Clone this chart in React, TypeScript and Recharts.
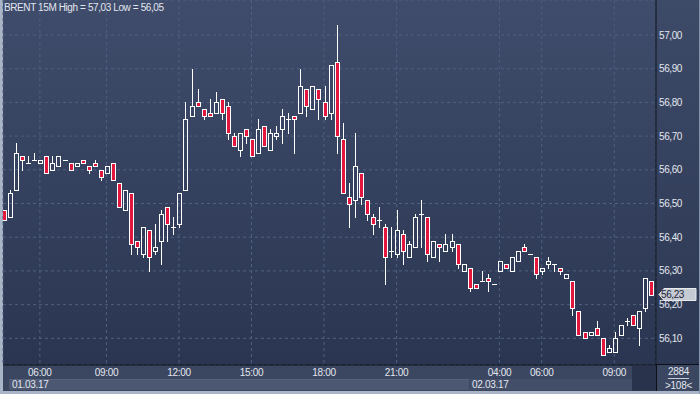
import React from "react";
import { ComposedChart, Bar, XAxis, YAxis, CartesianGrid, ReferenceLine } from "recharts";

// BRENT 15M, 108 bars (index 0..107)
const opens = [
  56.48, 56.46, 56.54, 56.64, 56.62, 56.63, 56.62, 56.64, 56.60, 56.61,
  56.63, 56.62, 56.61, 56.63, 56.61, 56.62, 56.60, 56.59, 56.62, 56.56,
  56.48, 56.53, 56.39, 56.35, 56.42, 56.36, 56.39, 56.49, 56.43, 56.44,
  56.54, 56.76, 56.80, 56.78, 56.77, 56.77, 56.81, 56.79, 56.70, 56.66,
  56.72, 56.69, 56.65, 56.73, 56.66, 56.70, 56.72, 56.75, 56.76, 56.77,
  56.84, 56.78, 56.84, 56.80, 56.77, 56.92, 56.69, 56.52, 56.51, 56.59,
  56.51, 56.46, 56.45, 56.43, 56.36, 56.35, 56.41, 56.34, 56.37, 56.47,
  56.46, 56.34, 56.38, 56.36, 56.37, 56.38, 56.30, 56.31, 56.26, 56.27,
  56.28, 56.26, 56.30, 56.32, 56.30, 56.33, 56.37, 56.35, 56.34, 56.30,
  56.32, 56.32, 56.31, 56.28, 56.27, 56.18, 56.12, 56.11, 56.13, 56.10,
  56.06, 56.06, 56.11, 56.15, 56.17, 56.13, 56.19, 56.27,
];
const highs = [
  56.48, 56.54, 56.68, 56.64, 56.64, 56.65, 56.63, 56.64, 56.64, 56.64,
  56.63, 56.62, 56.62, 56.63, 56.61, 56.63, 56.60, 56.61, 56.62, 56.56,
  56.54, 56.53, 56.39, 56.43, 56.42, 56.44, 56.48, 56.49, 56.46, 56.53,
  56.80, 56.90, 56.84, 56.78, 56.81, 56.83, 56.81, 56.80, 56.71, 56.71,
  56.72, 56.69, 56.75, 56.73, 56.72, 56.73, 56.78, 56.77, 56.76, 56.90,
  56.84, 56.85, 56.84, 56.85, 56.91, 57.03, 56.74, 56.56, 56.71, 56.59,
  56.51, 56.47, 56.49, 56.44, 56.43, 56.48, 56.42, 56.39, 56.47, 56.51,
  56.46, 56.39, 56.38, 56.41, 56.41, 56.38, 56.32, 56.31, 56.26, 56.30,
  56.29, 56.26, 56.33, 56.32, 56.34, 56.36, 56.38, 56.35, 56.34, 56.31,
  56.34, 56.32, 56.31, 56.29, 56.27, 56.18, 56.12, 56.12, 56.15, 56.10,
  56.08, 56.12, 56.14, 56.16, 56.17, 56.18, 56.28, 56.27,
];
const lows = [
  56.45, 56.46, 56.54, 56.60, 56.62, 56.63, 56.62, 56.59, 56.60, 56.61,
  56.63, 56.60, 56.61, 56.62, 56.59, 56.61, 56.57, 56.59, 56.57, 56.49,
  56.48, 56.35, 56.35, 56.34, 56.30, 56.35, 56.32, 56.39, 56.41, 56.43,
  56.54, 56.76, 56.79, 56.75, 56.76, 56.77, 56.75, 56.69, 56.67, 56.64,
  56.68, 56.64, 56.65, 56.67, 56.66, 56.69, 56.68, 56.71, 56.65, 56.77,
  56.76, 56.78, 56.75, 56.75, 56.75, 56.65, 56.53, 56.43, 56.46, 56.50,
  56.45, 56.41, 56.43, 56.26, 56.34, 56.34, 56.32, 56.34, 56.37, 56.37,
  56.33, 56.34, 56.33, 56.36, 56.36, 56.31, 56.30, 56.24, 56.25, 56.27,
  56.24, 56.26, 56.30, 56.31, 56.30, 56.33, 56.36, 56.35, 56.28, 56.29,
  56.31, 56.30, 56.29, 56.28, 56.17, 56.11, 56.10, 56.11, 56.11, 56.05,
  56.06, 56.06, 56.11, 56.14, 56.14, 56.08, 56.18, 56.23,
];
const closes = [
  56.45, 56.53, 56.65, 56.63, 56.62, 56.63, 56.63, 56.59, 56.62, 56.64,
  56.63, 56.60, 56.62, 56.62, 56.60, 56.61, 56.58, 56.61, 56.57, 56.49,
  56.54, 56.38, 56.37, 56.43, 56.34, 56.37, 56.47, 56.44, 56.43, 56.53,
  56.75, 56.79, 56.79, 56.76, 56.76, 56.80, 56.77, 56.71, 56.67, 56.71,
  56.70, 56.64, 56.72, 56.67, 56.71, 56.71, 56.76, 56.75, 56.75, 56.85,
  56.79, 56.85, 56.81, 56.76, 56.91, 56.70, 56.53, 56.50, 56.61, 56.52,
  56.47, 56.44, 56.45, 56.34, 56.36, 56.42, 56.36, 56.38, 56.46, 56.47,
  56.35, 56.39, 56.37, 56.38, 56.39, 56.32, 56.32, 56.25, 56.25, 56.27,
  56.27, 56.26, 56.33, 56.31, 56.34, 56.36, 56.36, 56.35, 56.29, 56.31,
  56.33, 56.32, 56.30, 56.29, 56.19, 56.11, 56.10, 56.12, 56.11, 56.05,
  56.07, 56.10, 56.14, 56.15, 56.14, 56.18, 56.28, 56.23,
];

const tickIdx = [6, 17, 29, 41, 53, 65, 82, 89, 101];
const tickLabels = ["06:00", "09:00", "12:00", "15:00", "18:00", "21:00", "04:00", "06:00", "09:00"];
const priceTicks = [56.1, 56.2, 56.3, 56.4, 56.5, 56.6, 56.7, 56.8, 56.9, 57.0];
const lastPrice = 56.23;
const title = "BRENT 15M High = 57,03 Low = 56,05";

const rows = opens.map((o, i) => ({
  i,
  range: [lows[i], highs[i]],
  o,
  h: highs[i],
  l: lows[i],
  c: closes[i],
}));

const RED = "#e3173e";
const TXT = "#e2e6ee";
const FONT = '"Liberation Sans", Arial, sans-serif';

function Candle(props: any) {
  const { x, y, width, height, payload } = props;
  if (x == null || y == null) return null;
  const { o, h, l, c } = payload;
  const y0 = Math.min(y, y + height);
  const hh = Math.abs(height);
  const span = h - l;
  const py = (p: number) => (span > 0 ? y0 + ((h - p) / span) * hh : y0);
  const cx = Math.round(x + width / 2);
  const wx = cx + 0.5;
  const top = Math.round(Math.min(py(o), py(c))) + 0.5;
  const bot = Math.round(Math.max(py(o), py(c))) + 0.5;
  const yh = Math.round(y0);
  const yl = Math.round(y0 + hh) + 1;
  const down = c < o;
  return (
    <g>
      {yh < top && <line x1={wx} x2={wx} y1={yh} y2={top} stroke="#fff" strokeWidth={1} />}
      {yl > bot && <line x1={wx} x2={wx} y1={bot} y2={yl} stroke="#fff" strokeWidth={1} />}
      {bot - top < 1 ? (
        <line x1={cx - 2} x2={cx + 3} y1={top} y2={top} stroke="#fff" strokeWidth={1} />
      ) : (
        <rect x={cx - 1.5} y={top} width={4} height={bot - top} fill={down ? RED : "none"} stroke="#fff" strokeWidth={1} />
      )}
    </g>
  );
}

function PriceTag(props: any) {
  const vb = props.viewBox || {};
  const ax = vb.x + vb.width;
  const y = vb.y;
  const pts = `${ax + 3},${y} ${ax + 8},${y - 6} ${ax + 40},${y - 6} ${ax + 40},${y + 6} ${ax + 8},${y + 6}`;
  return (
    <g>
      <polygon points={pts} fill="#c6cad2" stroke="#e8eaee" strokeWidth={1} />
      <text x={ax + 5} y={y} dy="0.36em" fontSize={10} letterSpacing={-0.4} fill="#1c2438" fontFamily={FONT}>
        {lastPrice.toFixed(2).replace(".", ",")}
      </text>
    </g>
  );
}

const fmtPrice = (v: number) => v.toFixed(2).replace(".", ",");
const fmtTime = (v: number) => tickLabels[tickIdx.indexOf(v)] ?? "";

export default function App() {
  return (
    <div style={{ position: "absolute", left: 0, top: 0, width: 700, height: 394, background: "#3b4661", overflow: "hidden", fontFamily: FONT }}>
      {/* plot + price panel backgrounds */}
      <div style={{ position: "absolute", left: 3, top: 0, width: 653, height: 365, background: "linear-gradient(#3f4c6b, #2a3651)" }} />
      <div style={{ position: "absolute", left: 657, top: 0, width: 43, height: 364, background: "linear-gradient(#3d4a68, #2c3853)" }} />
      {/* bottom row */}
      <div style={{ position: "absolute", left: 9, top: 379, width: 460, height: 11, background: "#4c5872", borderTop: "1px solid #56627c", boxSizing: "border-box" }} />
      <div style={{ position: "absolute", left: 12, top: 379, fontSize: 10, letterSpacing: -0.3, color: TXT, lineHeight: "11px" }}>01.03.17</div>
      <div style={{ position: "absolute", left: 470, top: 379, width: 162, height: 11, background: "#434e69" }} />
      <div style={{ position: "absolute", left: 472, top: 379, fontSize: 10, letterSpacing: -0.3, color: TXT, lineHeight: "11px" }}>02.03.17</div>
      <div style={{ position: "absolute", left: 632, top: 366, width: 24, height: 25, background: "#29334b" }} />
      <div style={{ position: "absolute", left: 656, top: 364, width: 44, height: 1, background: "#0b0f17" }} />
      <div style={{ position: "absolute", left: 656, top: 365, width: 1, height: 26, background: "#0b0f17" }} />
      <div style={{ position: "absolute", left: 657, top: 366, width: 43, textAlign: "center", fontSize: 10, letterSpacing: -0.3, color: TXT, lineHeight: "11px" }}>
        <div style={{ display: "inline-block", borderBottom: "1px solid #c8ccd6", paddingBottom: 1 }}>2884</div>
        <div style={{ marginTop: 1 }}>&gt;108&lt;</div>
      </div>
      <div style={{ position: "absolute", left: 0, top: 0, width: 3, height: 394, background: "#a9b5c7" }} />
      <div style={{ position: "absolute", left: 0, top: 391, width: 700, height: 3, background: "#a9b5c7" }} />
      <div style={{ position: "absolute", left: 699, top: 0, width: 1, height: 394, background: "#8694ab" }} />

      <div style={{ position: "absolute", left: 0, top: 0 }}>
        <ComposedChart width={700} height={391} data={rows} margin={{ top: 0, right: 0, bottom: 0, left: 3 }}>
          <CartesianGrid stroke="#506080" strokeDasharray="3 3" />
          <XAxis
            type="number"
            dataKey="i"
            domain={[-0.1, 107.9]}
            allowDataOverflow
            ticks={tickIdx}
            tickFormatter={fmtTime}
            height={26}
            tickLine={false}
            tickSize={0}
            tickMargin={4}
            axisLine={{ stroke: "#0b0f17" }}
            tick={{ fill: TXT, fontSize: 10, letterSpacing: -0.3, fontFamily: FONT }}
          />
          <YAxis
            orientation="right"
            domain={[56.0208, 57.1039]}
            allowDataOverflow
            ticks={priceTicks}
            tickFormatter={fmtPrice}
            width={44}
            tickLine={false}
            tickSize={0}
            tickMargin={3}
            axisLine={{ stroke: "#0b0f17" }}
            tick={{ fill: TXT, fontSize: 10, letterSpacing: -0.4, fontFamily: FONT, textAnchor: "start" }}
          />
          <Bar dataKey="range" barSize={5} shape={Candle} isAnimationActive={false} />
          <ReferenceLine y={lastPrice} stroke="none" ifOverflow="visible" label={(p: any) => <PriceTag {...p} />} />
        </ComposedChart>
      </div>
      <div style={{ position: "absolute", left: 4, top: 2, fontSize: 10, letterSpacing: -0.4, color: TXT, lineHeight: "12px", whiteSpace: "nowrap" }}>{title}</div>
    </div>
  );
}
